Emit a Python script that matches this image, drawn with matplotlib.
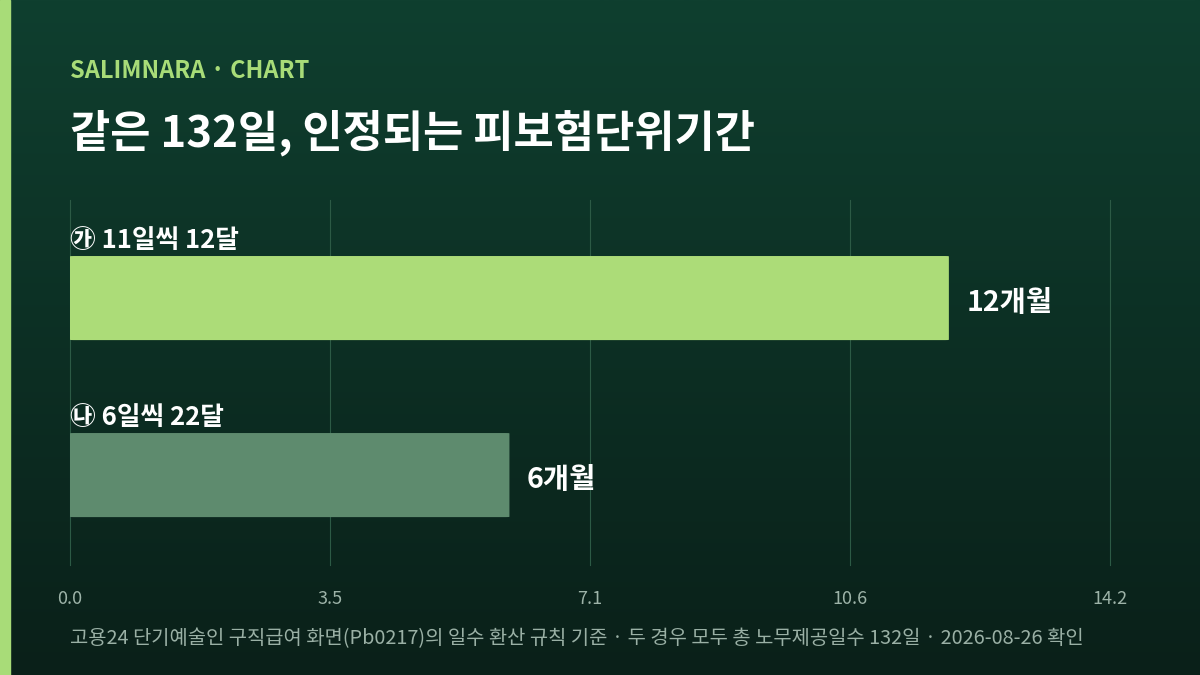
import matplotlib
matplotlib.use("Agg")
import matplotlib.pyplot as plt
import numpy as np
from matplotlib.patches import FancyBboxPatch
from matplotlib.colors import LinearSegmentedColormap

plt.rcParams['font.family'] = ['Noto Sans CJK KR', 'DejaVu Sans']

categories = ["㉮ 11일씩 12달", "㉯ 6일씩 22달"]
values = [12, 6]
value_labels = ["12개월", "6개월"]
bar_colors = ["#acdc78", "#5e8b6e"]
tick_values = [0, 3.55, 7.1, 10.65, 14.2]
tick_labels = ["0.0", "3.5", "7.1", "10.6", "14.2"]
title = "같은 132일, 인정되는 피보험단위기간"
kicker = "SALIMNARA · CHART"
footer = "고용24 단기예술인 구직급여 화면(Pb0217)의 일수 환산 규칙 기준 · 두 경우 모두 총 노무제공일수 132일 · 2026-08-26 확인"

fig = plt.figure(figsize=(12, 6.75), dpi=100)
bg = fig.add_axes([0, 0, 1, 1])
grad = np.linspace(0, 1, 256).reshape(-1, 1)
cmap = LinearSegmentedColormap.from_list("g", ["#0f3f2f", "#0a2019"])
bg.imshow(grad, aspect='auto', cmap=cmap, extent=[0, 1, 0, 1], origin='upper')
bg.add_patch(plt.Rectangle((0, 0), 10/1200, 1, color="#a8dc78", transform=bg.transAxes))
bg.set_axis_off()

W, H = 1200, 675
ax = fig.add_axes([70/W, 1-565/H, 1040/W, 365/H])
ax.patch.set_alpha(0)
ax.set_xlim(0, 14.2)
ax.set_ylim(-0.508, 1.554)
ypos = [1, 0]
bh = 0.475
for y, v, c, lab, vl in zip(ypos, values, bar_colors, categories, value_labels):
    ax.add_patch(FancyBboxPatch((0, y - bh/2), v, bh, boxstyle="round,pad=0,rounding_size=0.05",
                                mutation_aspect=1/30, facecolor=c, edgecolor='none', zorder=3))
    ax.text(0, y + bh/2 + 0.01, lab, color='white', fontsize=18.5, fontweight='bold', va='bottom', ha='left')
    ax.text(v + 0.24, y - 0.03, vl, color='white', fontsize=20.5, fontweight='bold', va='center', ha='left')
for t in tick_values:
    ax.axvline(t, color="#2c5a45", lw=0.8, zorder=1, clip_on=False)
ax.set_xticks(tick_values)
ax.set_xticklabels(tick_labels, color="#9db3a8", fontsize=13)
ax.tick_params(length=0, pad=18)
ax.set_yticks([])
for s in ax.spines.values():
    s.set_visible(False)

fig.text(70/W, 1-71/H, kicker, color="#a8dc78", fontsize=17, fontweight='bold', va='center')
fig.text(70/W, 1-133/H, title, color='white', fontsize=31.5, fontweight='bold', va='center')
fig.text(70/W, 1-639/H, footer, color="#9ab0a5", fontsize=14.3, va='center')

fig.savefig("out.png", dpi=100)
